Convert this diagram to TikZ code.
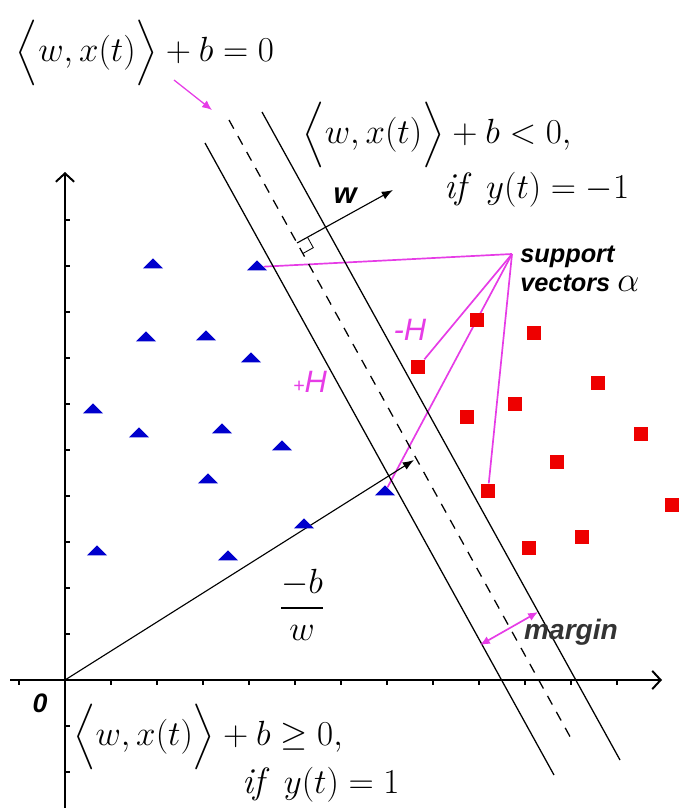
\documentclass[tikz,border=0pt]{standalone}
\usepackage{amsmath,amssymb}
\usepackage{fontspec}
\newfontfamily\labelfont{Liberation Sans}
\usepackage{tikz}
\usetikzlibrary{arrows.meta,positioning,shapes.geometric,backgrounds}
\definecolor{svpink}{RGB}{230,60,230}
\definecolor{ptblue}{RGB}{0,0,205}
\definecolor{ptred}{RGB}{238,0,0}

\begin{document}
\begin{tikzpicture}[
  x=0.025cm, y=-0.025cm,
  axis/.style={line width=1.4pt, -{Straight Barb[length=6pt,width=13pt]}},
  hyper/.style={line width=0.9pt},
  tri/.style={regular polygon, regular polygon sides=3, fill=ptblue, inner sep=0pt, minimum size=16.5pt, yscale=0.58},
  sq/.style={rectangle, fill=ptred, inner sep=0pt, minimum size=10.5pt},
  svline/.style={svpink, line width=1.2pt},
  arr/.style={-{Latex[length=8pt,width=6pt]}, line width=0.8pt},
  eqn/.style={inner sep=0pt, font=\fontsize{26}{30}\selectfont},
  lbl/.style={inner sep=0pt, font=\labelfont\fontsize{18}{21}\selectfont\bfseries\itshape},
  hlbl/.style={inner sep=0pt, text=svpink, font=\labelfont\fontsize{22}{24}\selectfont\itshape}
]
  \useasboundingbox (0,0) rectangle (679,808);

  % axes
  \coordinate (O) at (65,680);
  \draw[axis] (65,808) -- (65,172);
  \draw[axis] (10,680) -- (662,680);
  \foreach \k in {-1,1,2,3,4,5,6,7,8,9,10,11,12}
    \draw[line width=0.9pt] (65+46*\k,680) -- ++(0,5);
  \foreach \k in {-2,-1,1,2,3,4,5,6,7,8,9,10}
    \draw[line width=0.9pt] (65,680-46*\k) -- ++(5,0);

  % hyperplane and margins
  \coordinate (hl1) at (205,143);
  \coordinate (hl2) at (554,775);
  \coordinate (hm1) at (229,120);
  \coordinate (hm2) at (573,742);
  \coordinate (hr1) at (262,112);
  \coordinate (hr2) at (620,760);
  \draw[hyper] (hl1) -- (hl2);
  \draw[hyper, dash pattern=on 7pt off 6pt] (hm1) -- (hm2);
  \draw[hyper] (hr1) -- (hr2);

  % normal vector w
  \coordinate (wfoot) at (297,243);
  \coordinate (wtip) at (393,190);
  \draw[arr] (wfoot) -- (wtip);
  \draw[line width=0.6pt] (307.5,237.2) -- (313.3,247.7) -- (302.8,253.5);
  \node[lbl, font=\labelfont\fontsize{21}{22}\selectfont\bfseries\itshape] (wlbl) at (345,196) {w};

  % offset -b/w
  \coordinate (bw) at (414,460);
  \draw[arr] (O) -- (bw);
  \node[eqn, font=\fontsize{31}{34}\selectfont] (frac) at (302,605) {$\displaystyle\frac{-b}{w}$};

  % class +1 (triangles)
  \node[tri] (b1) at (153,265) {};
  \node[tri] (b2) at (257,267) {};
  \node[tri] (b3) at (146,338) {};
  \node[tri] (b4) at (206,337) {};
  \node[tri] (b5) at (251,359) {};
  \node[tri] (b6) at (93,410) {};
  \node[tri] (b7) at (139,434) {};
  \node[tri] (b8) at (222,430) {};
  \node[tri] (b9) at (282,447) {};
  \node[tri] (b10) at (208,480) {};
  \node[tri] (b11) at (385,492) {};
  \node[tri] (b12) at (304,525) {};
  \node[tri] (b13) at (97,552) {};
  \node[tri] (b14) at (228,557) {};

  % class -1 (squares)
  \node[sq] (r1) at (477,320) {};
  \node[sq] (r2) at (534,333) {};
  \node[sq] (r3) at (418,367) {};
  \node[sq] (r4) at (598,383) {};
  \node[sq] (r5) at (515,404) {};
  \node[sq] (r6) at (467,417) {};
  \node[sq] (r7) at (641,434) {};
  \node[sq] (r8) at (557,462) {};
  \node[sq] (r9) at (488,491) {};
  \node[sq] (r10) at (672,505) {};
  \node[sq] (r11) at (582,537) {};
  \node[sq] (r12) at (529,548) {};

  % support vectors
  \coordinate (apex) at (512,254);
  \node[lbl, anchor=west, align=left] (svtext) at (520,269) {support\\vectors {\fontsize{30}{21}\selectfont\mdseries$\alpha$}};
  \begin{scope}[on background layer]
    \draw[svline] (apex) -- (b2);
    \draw[svline] (apex) -- (r3);
    \draw[svline] (apex) -- (b11);
    \draw[svline] (apex) -- (r9);
  \end{scope}
  \node[hlbl] (hneg) at (410,330) {-H};
  \node[hlbl] (hpos) at (310,382) {{\fontsize{14}{14}\selectfont+}H};

  % margin
  \coordinate (mg1) at (480,645);
  \coordinate (mg2) at (538,612);
  \draw[svline, {Latex[length=7pt,width=6pt]}-{Latex[length=7pt,width=6pt]}] (mg1) -- (mg2);
  \node[lbl, text=black!80, font=\labelfont\fontsize{20}{22}\selectfont\bfseries\itshape] (margin) at (571,632) {margin};

  % equations
  \node[eqn, anchor=north] (eq0) at (145,20) {$\Bigl\langle w,x(t)\Bigr\rangle+b=0$};
  \coordinate (ptr) at (174,80);
  \coordinate (ptrend) at (212,110);
  \draw[svline, line width=0.9pt, -{Latex[length=7pt,width=6pt]}] (ptr) -- (ptrend);
  \node[eqn] (eqneg) at (437,135) {$\Bigl\langle w,x(t)\Bigr\rangle+b<0,$};
  \node[eqn] (ifneg) at (537,190) {$\mathit{if}\;\;y(t)=-1$};
  \node[eqn] (eqpos) at (208,737) {$\Bigl\langle w,x(t)\Bigr\rangle+b\geq0,$};
  \node[eqn] (ifpos) at (321,785) {$\mathit{if}\;\;y(t)=1$};
  \node[lbl, font=\labelfont\fontsize{19}{20}\selectfont\bfseries\itshape] (zero) at (40,703) {0};
\end{tikzpicture}
\end{document}
